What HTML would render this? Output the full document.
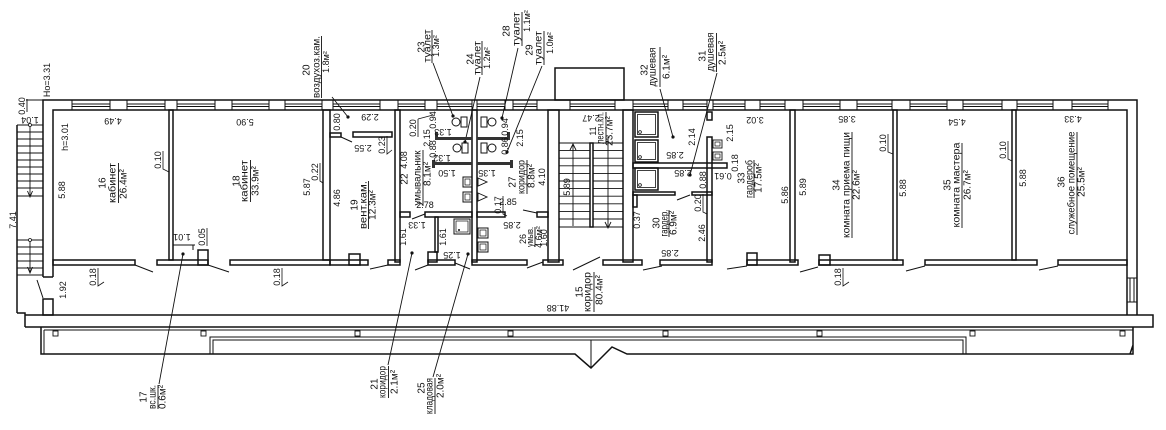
<!DOCTYPE html>
<html><head><meta charset="utf-8">
<style>
html,body{margin:0;padding:0;background:#fff;}
svg{display:block}
text{font-family:"Liberation Sans",sans-serif;font-size:10px;fill:#111;text-anchor:middle;dominant-baseline:central}
.d{font-size:9px}
.s{font-size:9px}
</style></head><body>
<svg width="1166" height="430" viewBox="0 0 1166 430" xmlns="http://www.w3.org/2000/svg">
<rect x="0" y="0" width="1166" height="430" fill="#fff"/>
<g fill="none" stroke="#111" stroke-width="1.5">
<!-- outer walls -->
<path d="M43,277V100H1137V315M53,277V110H1127V315M43,277H53"/>
<rect x="43" y="299" width="10" height="16"/>
<!-- windows top -->
<path stroke-width="1" d="
M72,100V110M110,100V110M72,104H110M72,106.5H110
M127,100V110M165,100V110M127,104H165M127,106.5H165
M177,100V110M215,100V110M177,104H215M177,106.5H215
M232,100V110M269,100V110M232,104H269M232,106.5H269
M285,100V110M322,100V110M285,104H322M285,106.5H322
M333,100V110M380,100V110M333,104H380M333,106.5H380
M398,100V110M425,100V110M398,104H425M398,106.5H425
M437,100V110M472,100V110M437,104H472M437,106.5H472
M477,100V110M505,100V110M477,104H505M477,106.5H505
M513,100V110M537,100V110M513,104H537M513,106.5H537
M570,100V110M615,100V110M570,104H615M570,106.5H615
M633,100V110M668,100V110M633,104H668M633,106.5H668
M683,100V110M707,100V110M683,104H707M683,106.5H707
M713,100V110M745,100V110M713,104H745M713,106.5H745
M760,100V110M785,100V110M760,104H785M760,106.5H785
M803,100V110M840,100V110M803,104H840M803,106.5H840
M857,100V110M892,100V110M857,104H892M857,106.5H892
M910,100V110M947,100V110M910,104H947M910,106.5H947
M963,100V110M1002,100V110M963,104H1002M963,106.5H1002
M1017,100V110M1053,100V110M1017,104H1053M1017,106.5H1053
M1072,100V110M1108,100V110M1072,104H1108M1072,106.5H1108
M1127,278H1137M1127,302H1137M1130,278V302M1134,278V302"/>
<!-- stair housing on roof -->
<rect x="555" y="68" width="69" height="32"/>
<!-- vertical partitions -->
<rect x="169" y="110" width="4" height="150"/>
<rect x="323" y="110" width="7" height="150"/>
<rect x="395" y="110" width="5" height="152"/>
<rect x="472" y="110" width="5" height="152"/>
<rect x="548" y="110" width="11" height="152"/>
<rect x="623" y="110" width="10" height="152"/>
<rect x="707" y="137" width="5" height="125"/>
<rect x="707" y="112" width="5" height="8"/>
<rect x="790" y="110" width="5" height="152"/>
<rect x="893" y="110" width="4" height="150"/>
<rect x="1012" y="110" width="4" height="150"/>
<!-- corridor wall segments -->
<rect x="53" y="260" width="82" height="5"/>
<rect x="157" y="260" width="51" height="5"/>
<rect x="198" y="250" width="10" height="15"/>
<rect x="230" y="260" width="100" height="5"/>
<rect x="330" y="260" width="38" height="5"/>
<rect x="349" y="254" width="11" height="11"/>
<rect x="388" y="260" width="12" height="5"/>
<rect x="428" y="260" width="27" height="5"/>
<rect x="428" y="252" width="9" height="10"/>
<rect x="472" y="260" width="55" height="5"/>
<rect x="543" y="260" width="20" height="5"/>
<rect x="603" y="260" width="39" height="5"/>
<rect x="660" y="260" width="52" height="5"/>
<rect x="747" y="260" width="51" height="5"/>
<rect x="747" y="253" width="10" height="12"/>
<rect x="819" y="260" width="84" height="5"/>
<rect x="819" y="255" width="11" height="10"/>
<rect x="925" y="260" width="112" height="5"/>
<rect x="1058" y="260" width="69" height="5"/>
<!-- door leaves -->
<path stroke-width="1" d="M135,265L153,272M208,265L229,272M370,269L388,265M415,270L428,265M455,263L470,269M527,268L543,262M573,270L600,257M643,270L662,266M727,269L747,266M800,272L818,267M906,271L925,266M1039,270L1058,266M37,280L43,298M341,137L352,142M412,219L425,214M523,210L537,213M677,200L690,195"/>
<!-- closet lines room 16 -->
<path stroke-width="1" d="M173,245H195M193,245V250"/>
<!-- room 20 walls -->
<rect x="330" y="133" width="11" height="4"/>
<rect x="353" y="132" width="39" height="5"/>
<!-- room 22/27 walls -->
<rect x="400" y="212" width="10" height="5"/>
<rect x="425" y="212" width="47" height="5"/>
<rect x="477" y="212" width="28" height="5"/>
<rect x="537" y="212" width="11" height="5"/>
<rect x="435" y="217" width="3" height="35"/>
<!-- 30/31/32 walls -->
<rect x="633" y="163" width="94" height="5"/>
<rect x="633" y="192" width="42" height="3"/>
<rect x="692" y="192" width="20" height="3"/>
<rect x="633" y="195" width="4" height="12"/>
<!-- shower stalls -->
<rect x="635" y="112" width="23" height="25"/><rect x="637.5" y="114.5" width="18" height="20" stroke-width="0.8"/>
<rect x="635" y="140" width="23" height="22"/><rect x="637.5" y="142.5" width="18" height="17" stroke-width="0.8"/>
<rect x="635" y="168" width="23" height="22"/><rect x="637.5" y="170.5" width="18" height="17" stroke-width="0.8"/>
<circle cx="640" cy="132" r="1.4" stroke-width="0.8"/><circle cx="640" cy="157" r="1.4" stroke-width="0.8"/><circle cx="640" cy="185" r="1.4" stroke-width="0.8"/>
<!-- sinks 31 -->
<rect x="713" y="140" width="9" height="8" stroke-width="0.9"/><rect x="715" y="142" width="5" height="4" stroke-width="0.7"/>
<rect x="713" y="152" width="9" height="8" stroke-width="0.9"/><rect x="715" y="154" width="5" height="4" stroke-width="0.7"/>
<!-- toilets -->
<circle cx="456" cy="122" r="4" stroke-width="1"/><rect x="461" y="117" width="6" height="10" stroke-width="1"/>
<circle cx="457" cy="148" r="4" stroke-width="1"/><rect x="462" y="143" width="6" height="10" stroke-width="1"/>
<rect x="481" y="117" width="6" height="10" stroke-width="1"/><circle cx="492" cy="122" r="4" stroke-width="1"/>
<rect x="481" y="143" width="6" height="10" stroke-width="1"/><circle cx="492" cy="148" r="4" stroke-width="1"/>
<!-- sinks 22 -->
<rect x="463" y="177" width="9" height="10" stroke-width="1"/><rect x="465" y="179" width="5" height="6" stroke-width="0.7"/>
<rect x="463" y="192" width="9" height="10" stroke-width="1"/><rect x="465" y="194" width="5" height="6" stroke-width="0.7"/>
<path stroke-width="0.9" d="M478,178L487,182L478,186ZM478,193L487,197L478,201Z"/>
<!-- 25 box -->
<rect x="454" y="219" width="16" height="15" stroke-width="1"/><rect x="456" y="221" width="12" height="11" stroke-width="0.7"/>
<!-- 26 sinks -->
<rect x="478" y="228" width="10" height="10" stroke-width="1"/><rect x="480" y="230" width="6" height="6" stroke-width="0.7"/>
<rect x="478" y="242" width="10" height="10" stroke-width="1"/><rect x="480" y="244" width="6" height="6" stroke-width="0.7"/>
<!-- central stair -->
<path stroke-width="0.9" d="M559,143H623M559,150.6H623M559,158.2H623M559,165.8H623M559,173.4H623M559,181H623M559,188.6H623M559,196.2H623M559,203.8H623M559,211.4H623M559,219H623M559,227H623"/>
<rect x="590" y="143" width="3" height="84" fill="#fff"/>
<path stroke-width="0.9" d="M573,226V144M570,150L573,144L576,150M608,137V228M605,222L608,228L611,222"/>
<!-- outside stair -->
<path d="M17,125V313"/>
<path stroke-width="0.9" d="M17,125H43M17,132H43M17,139H43M17,146H43M17,153H43M17,160H43M17,167H43M17,174H43M17,181H43M17,188H43M17,196H43M17,240H43M17,247H43M17,254H43M17,261H43M17,268H43M17,275H43"/>
<path stroke-width="0.9" d="M30,126V197M27.5,191L30,197L32.5,191M30,241V273M27.5,267L30,273L32.5,267"/>
<circle cx="30" cy="125" r="1.5" stroke-width="0.8" fill="#fff"/>
<circle cx="30" cy="240" r="1.5" stroke-width="0.8" fill="#fff"/>
<path stroke-width="0.9" d="M26,100H43M27,99V112"/>
<!-- bottom slab & canopy -->
<path d="M17,313H25V327M25,315H1153V327H25"/>
<path d="M41,327V354H575L591,368L612,347L627,354H1133V345L1130,354M1133,345V327"/>
<path stroke-width="1" d="M44,330H1133M44,330V354M210,354V337H966V354M213,354V340H963V354M591,340V368"/>
<g stroke-width="0.9">
<rect x="53" y="331" width="5" height="5"/><rect x="201" y="331" width="5" height="5"/><rect x="355" y="331" width="5" height="5"/><rect x="508" y="331" width="5" height="5"/><rect x="663" y="331" width="5" height="5"/><rect x="817" y="331" width="5" height="5"/><rect x="970" y="331" width="5" height="5"/><rect x="1120" y="331" width="5" height="5"/>
</g>
<!-- leaders -->
<path stroke-width="0.9" d="M332,97L348,117M433,63L453,116M480,77L465,142M518,48L502,118M542,66L507,152M660,89L673,137M717,73L690,175M159,384L183,254M388,365L412,253M433,377L468,254"/>
<!-- name underlines -->
<path stroke-width="0.9" d="M118.5,163V203M250.5,160V202M368.5,181V229M321.5,36V98M423,150V206M432,30V63M482,41V75M522,12V46M544,31V65M527,160V194M535,227V247M435,378V414M388.5,366V398M158,385V409M594,272V312M606,112V144M660,47V87M716.5,33V72M669,210V237M754,160V198M852,132V238M962,143V228M1077,132V235"/>
<!-- dim underlines/ticks -->
<path stroke-width="0.8" d="M163,151V169L169,172M207,228V246M98,268V286L104,282M282,268V286L288,282M320,163V181L323,183M387,136V154L392,150M418,119V137M418,119L433,115M503,196V214L507,216M703,194V212L707,214M888,134V152L893,154M1008,141V159L1012,161M843,268V286L849,282"/>
</g>
<!-- cubicle partitions filled -->
<g fill="#333">
<rect x="435" y="137" width="37" height="3"/><rect x="477" y="137" width="33" height="3"/>
<rect x="432" y="162" width="40" height="3"/><rect x="477" y="162" width="35" height="3"/>
<rect x="435" y="132" width="3" height="8"/><rect x="432" y="160" width="3" height="8"/>
<rect x="507" y="132" width="3" height="8"/><rect x="510" y="160" width="3" height="8"/>
</g>
<!-- dots -->
<g fill="#111">
<circle cx="348" cy="117" r="1.6"/><circle cx="453" cy="116" r="1.6"/><circle cx="465" cy="142" r="1.6"/><circle cx="502" cy="118" r="1.6"/><circle cx="507" cy="152" r="1.6"/><circle cx="673" cy="137" r="1.6"/><circle cx="690" cy="175" r="1.6"/><circle cx="183" cy="254" r="1.6"/><circle cx="412" cy="253" r="1.6"/><circle cx="468" cy="254" r="1.6"/><circle cx="459" cy="230" r="1"/>
</g>

<!-- room labels (rotated) -->
<text transform="translate(103,183) rotate(-90)">16</text>
<text transform="translate(113,183) rotate(-90)" textLength="40" lengthAdjust="spacingAndGlyphs">кабинет</text>
<text transform="translate(124,184) rotate(-90)">26.4м²</text>
<text transform="translate(237,181) rotate(-90)">18</text>
<text transform="translate(245,181) rotate(-90)" textLength="42" lengthAdjust="spacingAndGlyphs">кабинет</text>
<text transform="translate(256,181) rotate(-90)">33.9м²</text>
<text transform="translate(355,205) rotate(-90)">19</text>
<text transform="translate(364,205) rotate(-90)" textLength="48" lengthAdjust="spacingAndGlyphs">вент.кам.</text>
<text transform="translate(373,205) rotate(-90)">12.3м²</text>
<text transform="translate(307,70) rotate(-90)">20</text>
<text transform="translate(317,67) rotate(-90)" textLength="62" lengthAdjust="spacingAndGlyphs">воздухоз.кам.</text>
<text transform="translate(326,62) rotate(-90)" class="s">1.8м²</text>
<text transform="translate(405,179) rotate(-90)">22</text>
<text transform="translate(418,178) rotate(-90)" textLength="55" lengthAdjust="spacingAndGlyphs">умывальник</text>
<text transform="translate(428,174) rotate(-90)">8.1м²</text>
<text transform="translate(422,47) rotate(-90)">23</text>
<text transform="translate(428,46) rotate(-90)" textLength="33" lengthAdjust="spacingAndGlyphs">туалет</text>
<text transform="translate(436,46) rotate(-90)" class="s">1.3м²</text>
<text transform="translate(471,59) rotate(-90)">24</text>
<text transform="translate(478,58) rotate(-90)" textLength="34" lengthAdjust="spacingAndGlyphs">туалет</text>
<text transform="translate(487,58) rotate(-90)" class="s">1.2м²</text>
<text transform="translate(507,31) rotate(-90)">28</text>
<text transform="translate(517,29) rotate(-90)" textLength="34" lengthAdjust="spacingAndGlyphs">туалет</text>
<text transform="translate(527,21) rotate(-90)" class="s">1.1м²</text>
<text transform="translate(530,50) rotate(-90)">29</text>
<text transform="translate(539,48) rotate(-90)" textLength="34" lengthAdjust="spacingAndGlyphs">туалет</text>
<text transform="translate(550,43) rotate(-90)" class="s">1.0м²</text>
<text transform="translate(513,182) rotate(-90)">27</text>
<text transform="translate(522,177) rotate(-90)" textLength="34" lengthAdjust="spacingAndGlyphs">коридор</text>
<text transform="translate(532,176) rotate(-90)">8.8м²</text>
<text transform="translate(523,239) rotate(-90)" class="s">26</text>
<text transform="translate(530,237) rotate(-90)" class="s" textLength="20" lengthAdjust="spacingAndGlyphs">умыв.</text>
<text transform="translate(539,237) rotate(-90)" class="s">4.6м²</text>
<text transform="translate(422,388) rotate(-90)">25</text>
<text transform="translate(430,396) rotate(-90)" textLength="36" lengthAdjust="spacingAndGlyphs">кладовая</text>
<text transform="translate(441,386) rotate(-90)">2.0м²</text>
<text transform="translate(375,384) rotate(-90)">21</text>
<text transform="translate(383,382) rotate(-90)" textLength="32" lengthAdjust="spacingAndGlyphs">коридор</text>
<text transform="translate(395,382) rotate(-90)">2.1м²</text>
<text transform="translate(144,397) rotate(-90)">17</text>
<text transform="translate(153,397) rotate(-90)" textLength="24" lengthAdjust="spacingAndGlyphs">вс.шк.</text>
<text transform="translate(163,397) rotate(-90)">0.6м²</text>
<text transform="translate(580,292) rotate(-90)">15</text>
<text transform="translate(588,292) rotate(-90)" textLength="40" lengthAdjust="spacingAndGlyphs">коридор</text>
<text transform="translate(600,290) rotate(-90)">80.4м²</text>
<text transform="translate(593,131) rotate(-90)" class="s">11</text>
<text transform="translate(601,128) rotate(-90)" textLength="32" lengthAdjust="spacingAndGlyphs">лестн.кл.</text>
<text transform="translate(610,131) rotate(-90)">23.7м²</text>
<text transform="translate(645,70) rotate(-90)">32</text>
<text transform="translate(653,67) rotate(-90)" textLength="39" lengthAdjust="spacingAndGlyphs">душевая</text>
<text transform="translate(667,67) rotate(-90)">6.1м²</text>
<text transform="translate(703,56) rotate(-90)">31</text>
<text transform="translate(711,52) rotate(-90)" textLength="39" lengthAdjust="spacingAndGlyphs">душевая</text>
<text transform="translate(723,53) rotate(-90)">2.5м²</text>
<text transform="translate(657,223) rotate(-90)">30</text>
<text transform="translate(665,223) rotate(-90)" textLength="27" lengthAdjust="spacingAndGlyphs">гардер.</text>
<text transform="translate(674,223) rotate(-90)">6.9м²</text>
<text transform="translate(742,178) rotate(-90)">33</text>
<text transform="translate(750,179) rotate(-90)" textLength="38" lengthAdjust="spacingAndGlyphs">гардероб</text>
<text transform="translate(759,178) rotate(-90)">17.5м²</text>
<text transform="translate(837,185) rotate(-90)">34</text>
<text transform="translate(847,185) rotate(-90)" textLength="106" lengthAdjust="spacingAndGlyphs">комната приема пищи</text>
<text transform="translate(857,185) rotate(-90)">22.6м²</text>
<text transform="translate(948,185) rotate(-90)">35</text>
<text transform="translate(957,185) rotate(-90)" textLength="85" lengthAdjust="spacingAndGlyphs">комната мастера</text>
<text transform="translate(968,185) rotate(-90)">26.7м²</text>
<text transform="translate(1062,182) rotate(-90)">36</text>
<text transform="translate(1072,183) rotate(-90)" textLength="103" lengthAdjust="spacingAndGlyphs">служебное помещение</text>
<text transform="translate(1082,182) rotate(-90)">25.5м²</text>

<!-- vertical dims -->
<g class="d">
<text class="d" transform="translate(47,80) rotate(-90)">Ho=3.31</text>
<text class="d" transform="translate(22,106) rotate(-90)">0.40</text>
<text class="d" transform="translate(65,137) rotate(-90)">h=3.01</text>
<text class="d" transform="translate(62,190) rotate(-90)">5.88</text>
<text class="d" transform="translate(13,220) rotate(-90)">7.41</text>
<text class="d" transform="translate(63,290) rotate(-90)">1.92</text>
<text class="d" transform="translate(158,160) rotate(-90)">0.10</text>
<text class="d" transform="translate(202,237) rotate(-90)">0.05</text>
<text class="d" transform="translate(93,277) rotate(-90)">0.18</text>
<text class="d" transform="translate(277,277) rotate(-90)">0.18</text>
<text class="d" transform="translate(307,187) rotate(-90)">5.87</text>
<text class="d" transform="translate(315,172) rotate(-90)">0.22</text>
<text class="d" transform="translate(337,198) rotate(-90)">4.86</text>
<text class="d" transform="translate(337,122) rotate(-90)">0.80</text>
<text class="d" transform="translate(382,145) rotate(-90)">0.23</text>
<text class="d" transform="translate(413,128) rotate(-90)">0.20</text>
<text class="d" transform="translate(427,138) rotate(-90)">2.15</text>
<text class="d" transform="translate(433,120) rotate(-90)">0.94</text>
<text class="d" transform="translate(433,149) rotate(-90)">0.88</text>
<text class="d" transform="translate(404,160) rotate(-90)">4.08</text>
<text class="d" transform="translate(403,237) rotate(-90)">1.61</text>
<text class="d" transform="translate(443,237) rotate(-90)">1.61</text>
<text class="d" transform="translate(505,127) rotate(-90)">0.94</text>
<text class="d" transform="translate(505,146) rotate(-90)">0.86</text>
<text class="d" transform="translate(520,138) rotate(-90)">2.15</text>
<text class="d" transform="translate(542,177) rotate(-90)">4.10</text>
<text class="d" transform="translate(498,205) rotate(-90)">0.17</text>
<text class="d" transform="translate(544,238) rotate(-90)">1.60</text>
<text class="d" transform="translate(567,187) rotate(-90)">5.89</text>
<text class="d" transform="translate(692,137) rotate(-90)">2.14</text>
<text class="d" transform="translate(730,133) rotate(-90)">2.15</text>
<text class="d" transform="translate(735,163) rotate(-90)">0.18</text>
<text class="d" transform="translate(703,180) rotate(-90)">0.88</text>
<text class="d" transform="translate(637,220) rotate(-90)">0.37</text>
<text class="d" transform="translate(698,203) rotate(-90)">0.20</text>
<text class="d" transform="translate(702,233) rotate(-90)">2.46</text>
<text class="d" transform="translate(785,195) rotate(-90)">5.86</text>
<text class="d" transform="translate(803,187) rotate(-90)">5.89</text>
<text class="d" transform="translate(883,143) rotate(-90)">0.10</text>
<text class="d" transform="translate(903,188) rotate(-90)">5.88</text>
<text class="d" transform="translate(1003,150) rotate(-90)">0.10</text>
<text class="d" transform="translate(1023,178) rotate(-90)">5.88</text>
<text class="d" transform="translate(838,277) rotate(-90)">0.18</text>
<!-- upside down dims -->
<text class="d" transform="translate(30,120) rotate(180)">1.04</text>
<text class="d" transform="translate(113,121) rotate(180)">4.49</text>
<text class="d" transform="translate(245,122) rotate(180)">5.90</text>
<text class="d" transform="translate(182,237) rotate(180)">1.01</text>
<text class="d" transform="translate(370,117) rotate(180)">2.29</text>
<text class="d" transform="translate(363,148) rotate(180)">2.55</text>
<text class="d" transform="translate(443,132) rotate(180)">1.33</text>
<text class="d" transform="translate(442,158) rotate(180)">1.32</text>
<text class="d" transform="translate(447,173) rotate(180)">1.50</text>
<text class="d" transform="translate(487,173) rotate(180)">1.35</text>
<text class="d" transform="translate(417,225) rotate(180)">1.33</text>
<text class="d" transform="translate(452,255) rotate(180)">1.25</text>
<text class="d" transform="translate(512,225) rotate(180)">2.85</text>
<text class="d" transform="translate(591,118) rotate(180)">2.47</text>
<text class="d" transform="translate(675,155) rotate(180)">2.85</text>
<text class="d" transform="translate(683,173) rotate(180)">2.85</text>
<text class="d" transform="translate(670,253) rotate(180)">2.85</text>
<text class="d" transform="translate(723,176) rotate(180)">0.61</text>
<text class="d" transform="translate(755,120) rotate(180)">3.02</text>
<text class="d" transform="translate(847,119) rotate(180)">3.85</text>
<text class="d" transform="translate(957,122) rotate(180)">4.54</text>
<text class="d" transform="translate(1073,119) rotate(180)">4.33</text>
<text class="d" transform="translate(558,308) rotate(180)">41.88</text>
<text class="d" x="425" y="205">2.78</text>
<text class="d" x="508" y="202">2.85</text>
</g>
</svg>
</body></html>
